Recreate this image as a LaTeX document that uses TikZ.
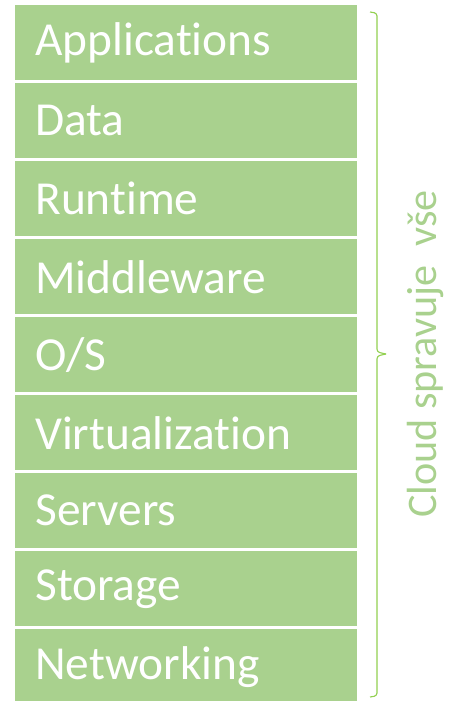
\documentclass[tikz,border=0pt]{standalone}
\usepackage{fontspec}
\setmainfont{Carlito}[Ligatures=NoCommon]
\usepackage{xcolor}
\definecolor{layergreen}{HTML}{A9D18E}
\definecolor{bracegreen}{HTML}{92D050}
\usetikzlibrary{positioning}

\begin{document}
\begin{tikzpicture}[
    layer/.style={fill=layergreen, anchor=north west, minimum width=8.55cm, minimum height=1.875cm,
        text width=7.55cm, inner xsep=0.5cm, inner ysep=0pt, align=left, text=white,
        font=\fontsize{33.7}{36}\selectfont}
]
    \useasboundingbox (0,0) rectangle (11.475,-17.525);
    % stack of layers
    \node[layer] (app) at (0.375,-0.125) {Applications};
    \node[layer] (data) at (0.375,-2.075) {Data};
    \node[layer] (runtime) at (0.375,-4.025) {Runtime};
    \node[layer] (middleware) at (0.375,-5.975) {Middleware};
    \node[layer] (os) at (0.375,-7.925) {O/S};
    \node[layer] (virt) at (0.375,-9.875) {Virtualization};
    \node[layer] (servers) at (0.375,-11.825) {Servers};
    \node[layer] (storage) at (0.375,-13.775) {Storage};
    \node[layer] (net) at (0.375,-15.725) {Networking};
    % brace
    \coordinate (bracetop) at (9.25,-0.3);
    \coordinate (bracebot) at (9.25,-17.425);
    \coordinate (bracetip) at (9.65,-8.85);
    \draw[bracegreen, line width=0.8pt, rounded corners=2pt]
        (bracetop) -- (9.425,-0.33) -- (9.425,-8.8) -- (bracetip);
    \draw[bracegreen, line width=0.8pt, rounded corners=2pt]
        (bracebot) -- (9.425,-17.395) -- (9.425,-8.9) -- (bracetip);
    \node[rotate=90, text=layergreen, font=\fontsize{30}{34}\selectfont] (label) at (10.625,-8.85) {Cloud spravuje\ \ vše};
\end{tikzpicture}
\end{document}
